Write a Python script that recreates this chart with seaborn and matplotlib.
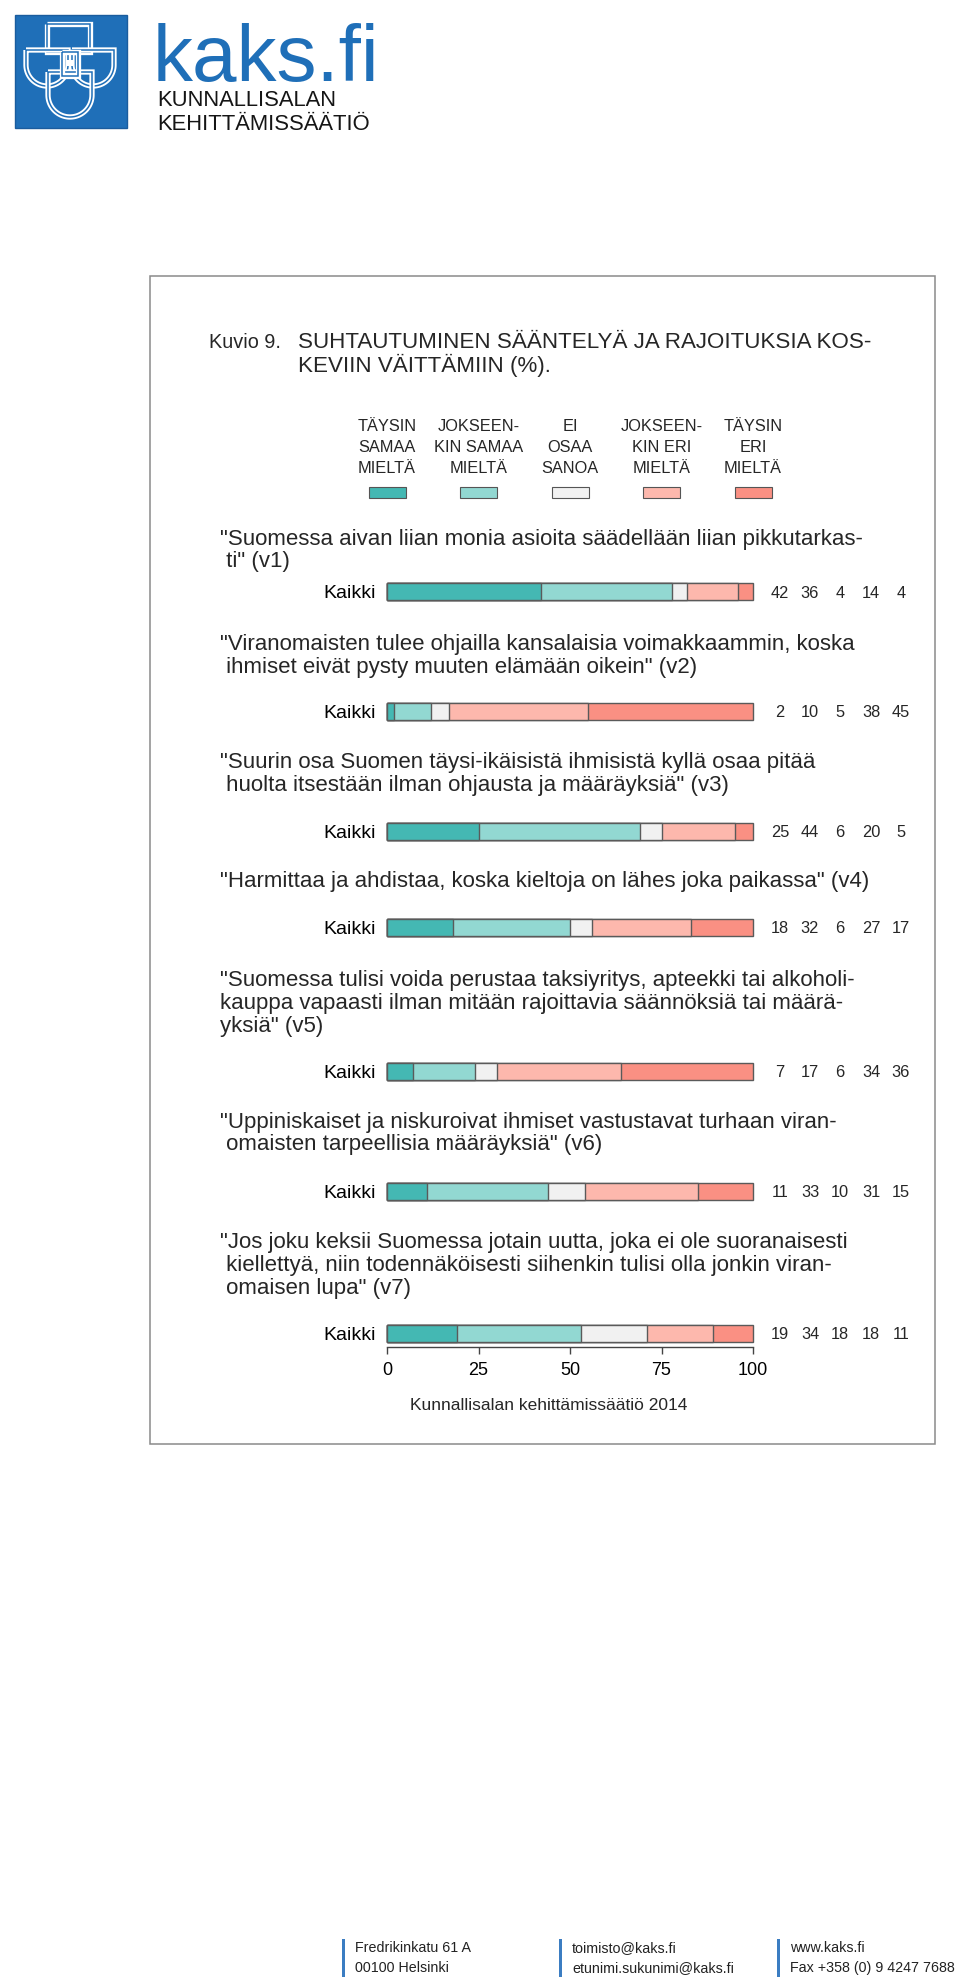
import matplotlib
matplotlib.use("Agg")
import matplotlib.pyplot as plt
import numpy as np
import pandas as pd
import seaborn as sns
from matplotlib.patches import Rectangle, PathPatch
from matplotlib.path import Path

sns.set_theme(style="white")
plt.rcParams["font.family"] = ["Liberation Sans", "DejaVu Sans"]

# --- data -------------------------------------------------------------
answer_labels = [
    "TÄYSIN\nSAMAA\nMIELTÄ",
    "JOKSEEN-\nKIN SAMAA\nMIELTÄ",
    "EI\nOSAA\nSANOA",
    "JOKSEEN-\nKIN ERI\nMIELTÄ",
    "TÄYSIN\nERI\nMIELTÄ",
]
answer_colors = ["#44b8b3", "#92d8d2", "#f1f1f1", "#fdb8ad", "#fa9083"]

statements = [
    ["\"Suomessa aivan liian monia asioita säädellään liian pikkutarkas-",
     " ti\" (v1)"],
    ["\"Viranomaisten tulee ohjailla kansalaisia voimakkaammin, koska",
     " ihmiset eivät pysty muuten elämään oikein\" (v2)"],
    ["\"Suurin osa Suomen täysi-ikäisistä ihmisistä kyllä osaa pitää",
     " huolta itsestään ilman ohjausta ja määräyksiä\" (v3)"],
    ["\"Harmittaa ja ahdistaa, koska kieltoja on lähes joka paikassa\" (v4)"],
    ["\"Suomessa tulisi voida perustaa taksiyritys, apteekki tai alkoholi-",
     "kauppa vapaasti ilman mitään rajoittavia säännöksiä tai määrä-",
     "yksiä\" (v5)"],
    ["\"Uppiniskaiset ja niskuroivat ihmiset vastustavat turhaan viran-",
     " omaisten tarpeellisia määräyksiä\" (v6)"],
    ["\"Jos joku keksii Suomessa jotain uutta, joka ei ole suoranaisesti",
     " kiellettyä, niin todennäköisesti siihenkin tulisi olla jonkin viran-",
     " omaisen lupa\" (v7)"],
]
group_label = "Kaikki"
v1 = [42, 36, 4, 14, 4]
v2 = [2, 10, 5, 38, 45]
v3 = [25, 44, 6, 20, 5]
v4 = [18, 32, 6, 27, 17]
v5 = [7, 17, 6, 34, 36]
v6 = [11, 33, 10, 31, 15]
v7 = [19, 34, 18, 18, 11]
all_values = [v1, v2, v3, v4, v5, v6, v7]
x_ticks = [0, 25, 50, 75, 100]

title_lines = ["SUHTAUTUMINEN SÄÄNTELYÄ JA RAJOITUKSIA KOS-", "KEVIIN VÄITTÄMIIN (%)."]
source_text = "Kunnallisalan kehittämissäätiö 2014"
footer = [
    ["Fredrikinkatu 61 A", "00100 Helsinki"],
    ["toimisto@kaks.fi", "etunimi.sukunimi@kaks.fi"],
    ["www.kaks.fi", "Fax +358 (0) 9 4247 7688"],
]

# --- layout (pixels) ---------------------------------------------------
W, H = 960, 1986
BAR_X0, BAR_X1 = 387, 753
BAR_H = 17
bar_centers = [592, 711, 831, 927, 1071, 1191, 1333]
text_centers = [[537, 559], [642, 665], [760, 783], [879],
                [978, 1001, 1024], [1120, 1142], [1240, 1263, 1286]]
num_x = [780, 810, 840, 871, 901]
PT = 0.72  # px -> pt at 100 dpi
BLUE = "#1f6fb8"

fig = plt.figure(figsize=(W / 100, H / 100), dpi=100)
bg = fig.add_axes([0, 0, 1, 1])
bg.set_xlim(0, W)
bg.set_ylim(H, 0)
bg.axis("off")


def px_x(v):
    return BAR_X0 + v / 100 * (BAR_X1 - BAR_X0)


# logo
bg.add_patch(Rectangle((15, 15), 112, 113, facecolor=BLUE, edgecolor="#1a5c9e", lw=1))


def u_shape(x0, x1, y0, y1):
    r = (x1 - x0) / 2
    yc = y1 - r
    t = np.linspace(0, np.pi, 40)
    verts = [(x0, y0), (x1, y0)] + list(zip(x0 + r + r * np.cos(t), yc + r * np.sin(t))) + [(x0, y0)]
    return Path(verts)


shapes = [
    Path([(47, 24), (90, 24), (90, 52), (47, 52), (47, 24)]),
    u_shape(26, 68, 50, 86),
    u_shape(72, 114, 50, 86),
    u_shape(48, 92, 72, 117),
    Path([(62, 52), (78, 52), (78, 76), (62, 76), (62, 52)]),
]
for s in shapes:
    bg.add_patch(PathPatch(s, fill=False, edgecolor="white", lw=3.8))
    bg.add_patch(PathPatch(s, fill=False, edgecolor=BLUE, lw=1.1))
bg.add_patch(Rectangle((67, 60), 6, 6, facecolor="white", edgecolor="none"))

bg.text(153, 81, "kaks.fi", fontsize=80 * PT, color=BLUE, va="baseline")
bg.text(157, 106, "KUNNALLISALAN", fontsize=22 * PT, color="#151515", va="baseline")
bg.text(157, 130, "KEHITTÄMISSÄÄTIÖ", fontsize=22 * PT, color="#151515", va="baseline")

# frame
bg.add_patch(Rectangle((150, 276), 785, 1168, fill=False, edgecolor="#8a8a8a", lw=1.1))

# title
bg.text(209, 348, "Kuvio 9.", fontsize=19.9 * PT, va="baseline")
for i, line in enumerate(title_lines):
    bg.text(298, 348 + 24 * i, line, fontsize=22.4 * PT, va="baseline")

# legend
for k, lab in enumerate(answer_labels):
    cx = px_x(x_ticks[k])
    for j, line in enumerate(lab.split("\n")):
        bg.text(cx, 431 + 21 * j, line, fontsize=16.4 * PT, ha="center", va="baseline")
    bg.add_patch(Rectangle((cx - 18.5, 487), 37, 11, facecolor=answer_colors[k],
                           edgecolor="#555555", lw=0.8))

# statements and numbers
for i, lines in enumerate(statements):
    for line, yc in zip(lines, text_centers[i]):
        bg.text(220, yc + 8, line, fontsize=22.3 * PT, va="baseline")
    for k, v in enumerate(all_values[i]):
        bg.text(num_x[k], bar_centers[i] + 6, str(v), fontsize=16.4 * PT, ha="center", va="baseline")

# bars
for i, vals in enumerate(all_values):
    yc = bar_centers[i]
    ax = fig.add_axes([BAR_X0 / W, 1 - (yc + BAR_H / 2) / H, (BAR_X1 - BAR_X0) / W, BAR_H / H])
    cum = np.cumsum(vals)
    df = pd.DataFrame({"ryhma": [group_label] * len(vals), "kumulatiivinen": cum})
    for k in range(len(vals) - 1, -1, -1):
        sns.barplot(data=df.iloc[[k]], x="kumulatiivinen", y="ryhma", orient="y",
                    color=answer_colors[k], saturation=1, width=1,
                    edgecolor="#5a5a5a", linewidth=1.0, ax=ax)
    for p in ax.patches:
        p.set_clip_on(False)
    ax.set_xlim(0, 100)
    ax.set_ylim(0.5, -0.5)
    ax.set_xlabel("")
    ax.set_ylabel("")
    ax.tick_params(axis="y", length=0, pad=8, labelsize=19.5 * PT, labelcolor="black")
    last = i == len(all_values) - 1
    sns.despine(ax=ax, left=True, top=True, right=True, bottom=not last)
    ax.patch.set_alpha(0)
    if last:
        ax.spines["bottom"].set_position(("outward", 4))
        ax.spines["bottom"].set_bounds(0, 100)
        ax.spines["bottom"].set_color("#444444")
        ax.spines["bottom"].set_linewidth(1.0)
        ax.set_xticks(x_ticks)
        ax.tick_params(axis="x", direction="out", length=5, width=1, color="#444444",
                       bottom=True, pad=6, labelsize=18 * PT, labelcolor="black")
    else:
        ax.set_xticks([])

bg.text(549, 1410, source_text, fontsize=17.4 * PT, ha="center", va="baseline")

# footer
for j, (bx, lines) in enumerate(zip([342, 559, 777], footer)):
    bg.add_patch(Rectangle((bx, 1939), 3, 38, facecolor="#3b7dc2", edgecolor="none"))
    for n, line in enumerate(lines):
        bg.text(bx + 13, 1952 + 20 * n, line, fontsize=14.3 * PT,
                color="#222222", va="baseline")

fig.savefig("out.png", dpi=100)
